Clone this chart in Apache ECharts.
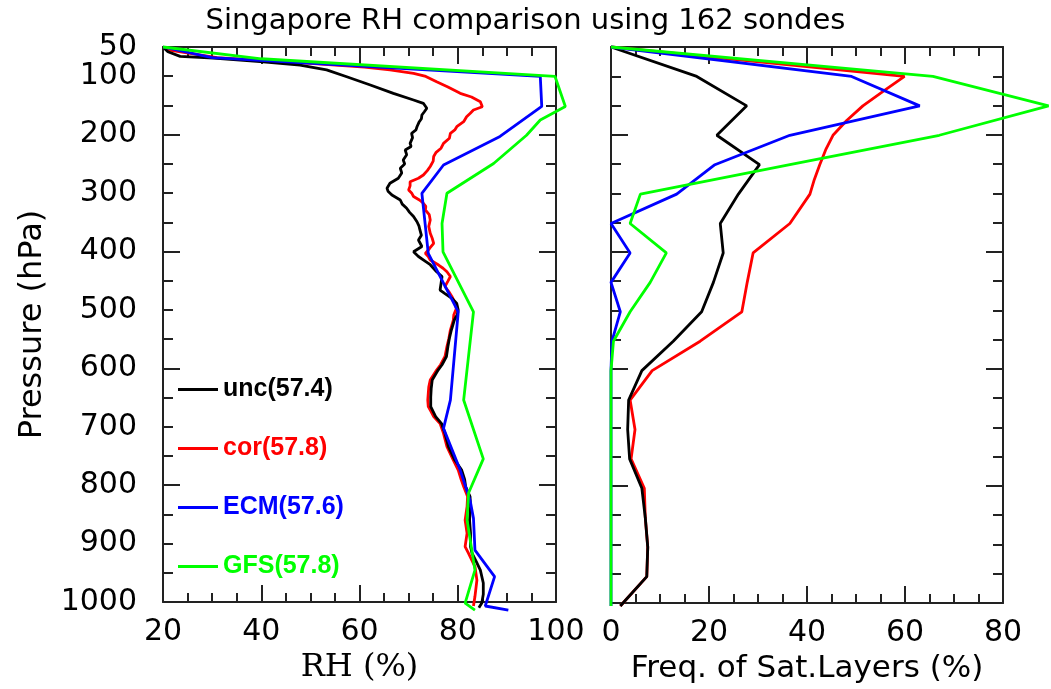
<!DOCTYPE html>
<html><head><meta charset="utf-8">
<script src="https://cdn.jsdelivr.net/npm/echarts@6/dist/echarts.min.js"></script>
<style>html,body{margin:0;padding:0;background:#fff}#c{width:1051px;height:689px}</style>
</head><body><div id="c"></div>
<script>
// ---- Data ----
const seriesNames = ['unc(57.4)', 'cor(57.8)', 'ECM(57.6)', 'GFS(57.8)'];
const seriesColors = ['#000000', '#ff0000', '#0000ff', '#00ff00'];

// Left panel: RH (%) profiles vs pressure (hPa)
const uncP = [50,58,66,69,75,80.6,89,100.5,114.6,128.7,140,145.7,154,160,165.6,172,178,185.5,191,196.7,204,213.7,219,225,233,242,249,256,264,273,281.6,290,295,301.5,310,317,324,331,338,347,354,361,370,378,389,398,406,413,420,432,440,452,463,469,477,486,497,505,514,531,545,559,576,590,599,616,630,645,661,678,690,706.5,729,752,769,785,797,814,831,854,876,899,910,925,939,961,980,995,1003];
const uncRH = [20,21,23.5,30.3,39.8,47.9,53.3,57.4,62.2,66.9,71,73,73.7,73.2,72.7,72.6,72.1,71.7,71.5,70.6,70.8,70.3,70.5,69.3,69.6,68.9,69.2,68.3,68.6,67.9,66.2,65.6,65.8,66.6,68.3,68.7,69.6,70.2,71,71.7,72.1,72.3,72.6,72,72.7,71,72,73.2,74.4,75.7,76.8,76.6,76.4,77.4,78.8,79.8,80.1,79.9,79.3,78.7,78.3,78,77.7,76.8,76,74.8,74.6,74.5,74.5,75.5,76.7,77.4,78.1,79.4,80.8,81.4,81.6,82.5,82.6,82.4,82.6,82.6,82.9,83.8,84.6,85.2,85.2,84.9,84.3];

const corP = [50,55,68,78,84,89,94.7,100,109,118,128.7,135,143,151.5,157,163,168.5,177,185.5,191,196.7,205,213.7,222,229,236,244,253,260,267.5,273,279,286,293,298,304,310,315.6,321,327,335,344,355,366.6,375,383.6,392,400.6,406,412,420.5,426,432,440,448,457,466,474,485.6,495,505,514,531,545,559,576,590,599,616,628,638.5,650,661,670,678,690,706.5,729,752,769,785,797,814,831,854,876.5,899,910.5,933,956,984,1000];
const corRH = [20,21,31,50,61,66.2,71,73.5,75.7,78,80.5,82.8,84.6,85,83.2,82.5,81.8,81.2,79.8,79.4,78.5,78.3,77.1,76.6,75.6,75.1,75,74.4,73.8,73,72,70.3,70.3,70,70.6,71,72.2,73,73.5,73.4,74.2,74.4,74.1,74.4,74.8,75.1,74.3,73.4,74,74.4,76.1,77,77.8,78.5,78,77.4,78.2,78.8,79.5,79.7,79.2,79.1,78.5,78.2,77.8,77.4,76.5,75.7,74.4,74.1,74,73.9,74,74.6,75.1,76.4,77.1,77.8,79.1,80.1,80.7,81.2,82,81.9,81.5,81.9,81.5,82.2,83.5,83.9,83.5,83.2];

const ecmP = [50,68,100,151,202,250.5,298.7,400.6,500,650,698,769,820,851,905,950,1000,1007];
const ecmRH = [20,30,96.8,97.1,88.6,77.1,72.7,74,80.1,78.5,77.1,80.5,82.5,83.2,83.5,87.5,85.6,90.3];

const gfsP = [50,70,100,151,174,200,248,298.6,350,398,500,650,750,808,854,939,995,1007];
const gfsRH = [20,40,99.8,101.9,96.8,94,87.3,77.8,76.8,77,83.2,81.2,85.2,82.2,81.9,83.5,81.5,83.5];

// Right panel: frequency of saturated layers (%)
const satP = [50,100,150,200,250,300,350,400,450,500,550,600,650,700,750,800,850,900,950,1000];
const uncF = [0,17.5,27.7,21.6,30.3,26,22.3,22.9,20.9,18.5,12.7,6.3,3.6,3.4,3.8,6.3,7,7.5,7.3,1.9];
const ecmF = [0,49.1,63,36.5,21.2,13.4,0,3.9,0,1.9,0.2,0,0,0,0,0,0,0,0,0];
const gfsF = [0,65.7,89.3,67,36.5,6,3.9,11.3,8,3.9,0.5,0,0,0,0,0,0,0,0,0];
const corSatP = [50,100,125,150,175,200,225,250,275,300,350,400,450,500,550,600,650,700,750,800,850,900,950,1000];
const corF = [0,59.9,55.6,51.4,48.1,45.3,43.8,42.6,41.5,40.6,36.5,29,27.8,26.7,18.2,8.4,3.9,4.9,4.1,6.8,7,7.5,7.3,1.9];

// Tick labels (the top one is carried by a second axis so it is never hidden as overlapping)
const yTopLabel = [50];
const yLabelValues = [100,200,300,400,500,600,700,800,900,1000];
const yLongTicks = [200,400,600,800];

// ---- Chart ----
const FONT = 'DejaVu Sans';
const AX = '#222';
const zip = (xs, ps) => xs.map((x, i) => [x, ps[i]]);

// Frame geometry: the data grids share the frame grids' scale but are wider,
// so lines may run past the right frame as in the original.
const LEFT = { left: 163, width: 393, min: 20, max: 100, dataMax: 110 };
const RIGHT = { left: 611, width: 392, min: 0, max: 80, dataMax: 89.6 };
const TOP = 47, HEIGHT = 559;

function xAx(grid, min, max, pos, name) {
  const o = {
    type: 'value', gridIndex: grid, min: min, max: max, interval: 20, position: pos,
    axisLine: { show: true, onZero: false, lineStyle: { color: AX, width: 2 } },
    axisTick: { show: true, inside: true, length: 17, lineStyle: { color: AX, width: 2 } },
    minorTick: { show: true, splitNumber: 4, length: 9, lineStyle: { color: AX, width: 2 } },
    axisLabel: { show: pos === 'bottom', fontFamily: FONT, fontSize: 30, color: '#000', margin: 15,
      showMinLabel: true, showMaxLabel: true, hideOverlap: false, formatter: v => String(v) },
    splitLine: { show: false }
  };
  if (name) {
    o.name = name; o.nameLocation = 'middle'; o.nameGap = 50;
    o.nameTextStyle = { fontFamily: name.startsWith('RH') ? 'DejaVu Serif' : FONT, fontSize: name.startsWith('RH') ? 32 : 31, color: '#000' };
  }
  return o;
}
function yAx(grid, pos, long, labelValues) {
  const o = {
    type: 'value', gridIndex: grid, min: 50, max: 1000, interval: 50, inverse: true, position: pos,
    axisLine: { show: !long, onZero: false, lineStyle: { color: AX, width: 2 } },
    axisTick: { show: true, inside: true, length: long ? 17 : 10, lineStyle: { color: AX, width: 2 } },
    axisLabel: { show: !!labelValues, fontFamily: FONT, fontSize: 30, color: '#000', margin: 26,
      hideOverlap: false, formatter: v => String(v) },
    splitLine: { show: false }
  };
  if (long) o.axisTick.customValues = yLongTicks;
  if (labelValues) o.axisLabel.customValues = labelValues;
  if (labelValues && !long) {
    o.name = 'Pressure (hPa)'; o.nameLocation = 'middle'; o.nameGap = 114; o.nameRotate = 90;
    o.nameTextStyle = { fontFamily: FONT, fontSize: 32, color: '#000' };
  }
  return o;
}
function hiddenX(grid, min, max) { return { type: 'value', gridIndex: grid, min: min, max: max, show: false, splitLine: { show: false } }; }
function hiddenY(grid) { return { type: 'value', gridIndex: grid, min: 50, max: 1000, inverse: true, show: false, splitLine: { show: false } }; }

const leftData = [zip(uncRH, uncP), zip(corRH, corP), zip(ecmRH, ecmP), zip(gfsRH, gfsP)];
const rightData = [zip(uncF, satP), zip(corF, corSatP), zip(ecmF, satP), zip(gfsF, satP)];
const zOrder = [2, 1, 3, 4];

const series = [];
leftData.forEach((d, i) => series.push({
  name: seriesNames[i], type: 'line', xAxisIndex: 4, yAxisIndex: 8, data: d,
  symbol: 'none', clip: false, z: 2 + zOrder[i],
  lineStyle: { color: seriesColors[i], width: 2.8 }, itemStyle: { color: seriesColors[i] }
}));
rightData.forEach((d, i) => series.push({
  name: seriesNames[i], type: 'line', xAxisIndex: 5, yAxisIndex: 9, data: d,
  symbol: 'none', clip: false, z: 2 + zOrder[i],
  lineStyle: { color: seriesColors[i], width: 2.8 }, itemStyle: { color: seriesColors[i] }
}));

const option = {
  animation: false,
  backgroundColor: '#fff',
  title: { text: 'Singapore RH comparison using 162 sondes', left: 'center', top: 2,
    textStyle: { fontFamily: FONT, fontSize: 29, fontWeight: 'normal', color: '#000' } },
  legend: {
    orient: 'vertical', left: 173, top: 372, itemWidth: 40, itemHeight: 3, itemGap: 34,
    icon: 'rect', selectedMode: false,
    textStyle: { fontFamily: 'Liberation Sans', fontWeight: 'bold', fontSize: 25 },
    data: seriesNames.map((n, i) => ({ name: n, textStyle: { color: seriesColors[i] } }))
  },
  grid: [
    { left: LEFT.left, top: TOP, width: LEFT.width, height: HEIGHT },
    { left: RIGHT.left, top: TOP, width: RIGHT.width, height: HEIGHT },
    { left: LEFT.left, top: TOP, width: LEFT.width * (LEFT.dataMax - LEFT.min) / (LEFT.max - LEFT.min), height: HEIGHT },
    { left: RIGHT.left, top: TOP, width: RIGHT.width * (RIGHT.dataMax - RIGHT.min) / (RIGHT.max - RIGHT.min), height: HEIGHT }
  ],
  xAxis: [
    xAx(0, LEFT.min, LEFT.max, 'bottom', 'RH (%)'),
    xAx(0, LEFT.min, LEFT.max, 'top'),
    xAx(1, RIGHT.min, RIGHT.max, 'bottom', 'Freq. of Sat.Layers (%)'),
    xAx(1, RIGHT.min, RIGHT.max, 'top'),
    hiddenX(2, LEFT.min, LEFT.dataMax),
    hiddenX(3, RIGHT.min, RIGHT.dataMax)
  ],
  yAxis: [
    yAx(0, 'left', false, yLabelValues),
    yAx(0, 'left', true, yTopLabel),
    yAx(0, 'right', false),
    yAx(0, 'right', true),
    yAx(1, 'left', false),
    yAx(1, 'left', true),
    yAx(1, 'right', false),
    yAx(1, 'right', true),
    hiddenY(2),
    hiddenY(3)
  ],
  series: series
};

const chart = echarts.init(document.getElementById('c'), null, { renderer: 'canvas' });
chart.setOption(option);
</script>
</body></html>
